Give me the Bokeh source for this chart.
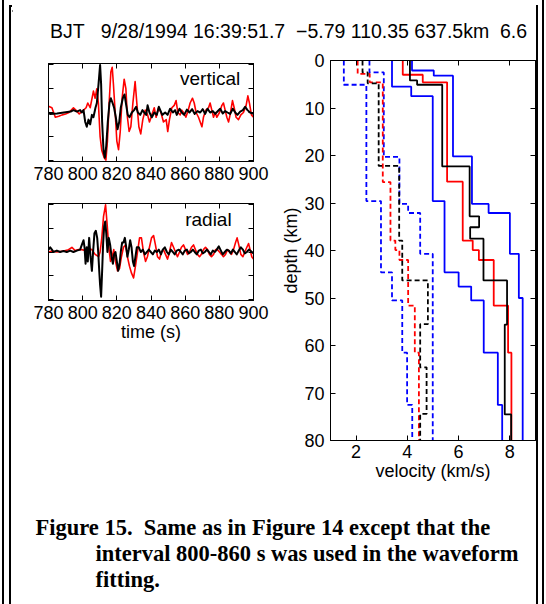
from bokeh.plotting import figure
from bokeh.models import Range1d, LinearAxis, Label, Div, FixedTicker
from bokeh.layouts import row, column
from bokeh.embed import file_html
from bokeh.resources import INLINE

FONT = "Liberation Sans"
SERIF = "Liberation Serif"
NB = "\u00a0"

TITLE = "BJT" + NB * 3 + "9/28/1994 16:39:51.7" + NB * 2 + "\u22125.79 110.35 637.5km" + NB * 2 + "6.6"
CAPTION = ["Figure 15." + NB * 2 + "Same as in Figure 14 except that the",
           "interval 800-860 s was used in the waveform",
           "fitting."]

time_ticks = [780, 800, 820, 840, 860, 880, 900]
amp_ticks = [-1, -0.5, 0, 0.5, 1]
vel_ticks = [2, 4, 6, 8]
depth_ticks = [0, 10, 20, 30, 40, 50, 60, 70, 80]

# ---- vertical component: synthetic (red) and observed (black)
vert_red_t = [780, 782, 784, 786, 788, 790, 792, 794.6, 796, 798,
              800.5, 802, 803, 804.4, 806.3, 807.3, 808.3, 809.2, 810.2, 811.2,
              812.6, 813.6, 814.5, 815.5, 816.5, 817.3, 818, 819.2, 820, 821,
              822, 823.1, 824.3, 825.3, 826.2, 827.2, 828.2, 829.4, 830.7, 831.7,
              832.9, 834, 835.2, 836.6, 838, 839.1, 840.5, 841.9, 843, 844.4,
              845.8, 847.3, 848.9, 849.8, 850.8, 852.2, 853.6, 854.7, 855.7, 857.1,
              858, 859, 860.4, 861.8, 862.9, 864.3, 865.3, 866.4, 867.8, 868.8,
              869.8, 870.7, 872.1, 873.7, 874.6, 875.6, 876.6, 877.6, 878.5, 880.1,
              881.5, 882.4, 883.4, 884.4, 885.4, 886.3, 887.7, 888.7, 889.8, 891.2,
              892.6, 894.1, 895.7, 896.7, 897.6, 898.8, 900]
vert_red = [0.13, 0.1, -0.1, -0.08, -0.05, -0.03, 0.0, 0.1, 0.05, -0.03,
            0.05, 0.1, 0.2, 0.1, 0.45, 0.3, 0.5, 0.2, -0.5, -0.8,
            -0.95, -1.0, -0.6, 0.2, 0.85, 0.95, 0.6, -0.1, -0.6, -0.78,
            -0.4, 0.3, 0.7, 0.5, -0.1, -0.4, -0.3, 0.2, 0.65, 0.2,
            -0.3, -0.45, -0.15, 0.05, -0.05, -0.2, -0.05, 0.1, -0.1, 0.1,
            0.0, -0.2, -0.15, -0.4, -0.15, 0.1, 0.15, 0.25, 0.0, -0.05,
            0.05, 0.0, -0.1, 0.05, 0.2, 0.3, 0.2, 0.0, -0.1, -0.2,
            -0.3, -0.1, 0.05, 0.1, 0.2, 0.05, -0.1, 0.0, -0.1, 0.0,
            0.15, 0.2, 0.05, -0.1, -0.2, -0.05, 0.25, 0.1, -0.1, -0.15,
            -0.05, 0.0, 0.15, 0.35, 0.2, -0.05, -0.1]
vert_blk_t = [780, 781, 785, 789, 793, 794.6, 796.6, 798.5, 799.5, 800.5,
              801.5, 802.4, 803.4, 804.4, 805.4, 806.3, 807.5, 808.3, 809.3, 810.2,
              810.8, 811.4, 812.2, 813, 813.8, 814.7, 815.7, 816.5, 817.5, 818.4,
              819.4, 820.4, 821.4, 822.3, 823.5, 824.5, 825.5, 826.4, 827.4, 828.8,
              830.1, 831.3, 832.3, 833.7, 835, 836, 837.2, 838, 839.1, 840.5,
              841.9, 843.4, 844.6, 845.4, 846.6, 848.3, 849.7, 851.2, 852.8, 854.1,
              855.1, 856.7, 858, 859.4, 861, 862.5, 864.1, 865.6, 867.2, 868.8,
              870.3, 871.7, 873.1, 874.6, 876.2, 877.6, 878.9, 880.5, 882, 883.4,
              884.8, 886.3, 887.9, 889.3, 890.6, 892.2, 893.8, 895.1, 896.5,
              898, 900]
vert_blk = [0.0, -0.03, -0.02, 0.0, 0.02, 0.05, 0.02, 0.05, 0.0, 0.05,
            -0.2, -0.3, -0.15, -0.25, -0.05, -0.1, 0.1, 0.2, 0.6, 1.0,
            0.6, -0.2, -0.8, -0.95, -0.7, -0.2, 0.2, 0.3, 0.2, 0.1,
            -0.1, -0.35, -0.2, 0.1, 0.3, 0.38, 0.15, -0.05, -0.1, 0.0,
            0.05, 0.12, 0.0, -0.05, 0.05, 0.0, -0.05, 0.15, 0.0, -0.1,
            0.0, -0.05, 0.12, 0.05, -0.05, 0.0, -0.05, 0.08, 0.0, 0.05,
            -0.05, 0.08, 0.0, -0.05, 0.06, 0.0, 0.07, -0.03, 0.03, 0.0,
            0.07, -0.03, 0.08, 0.0, 0.03, -0.03, 0.02, 0.08, -0.02, 0.03,
            0.0, -0.03, 0.08, 0.0, -0.05, 0.02, 0.05, 0.12, 0.05,
            0.0, -0.03]

# ---- radial component
rad_red_t = [780, 782, 784.9, 788.8, 791.7, 793.7, 795.6, 797.6, 799.5, 801.5,
             803.4, 805.4, 807.3, 809.3, 810.2, 811.2, 812.2, 813.4, 814.3, 815.3,
             816.3, 817.3, 818.2, 819.2, 820.4, 821.6, 822.7, 823.9, 825.1, 826.2,
             827.4, 828.6, 829.8, 830.9, 832.1, 833.3, 834.4, 835.6, 836.8, 837.9,
             839.1, 840.3, 841.5, 842.6, 843.8, 845, 846.1, 847.3, 848.5, 849.7,
             850.8, 852, 853.2, 854.3, 855.5, 856.7, 857.8, 859, 860.2, 861.4,
             862.5, 863.7, 864.9, 866, 867.2, 868.4, 869.5, 870.7, 871.9, 873.1,
             874.2, 875.4, 876.6, 877.8, 878.9, 880.1, 881.3, 882.4, 883.6, 884.8,
             886, 887.1, 888.3, 889.5, 890.4, 891.4, 892.6, 893.8, 894.9, 896.1,
             897.1, 898, 899, 900]
rad_red = [0.0, 0.02, 0.0, 0.02, 0.05, 0.1, 0.03, 0.05, 0.05, 0.03,
           0.07, 0.05, -0.05, -0.1, 0.0, 0.3, 0.75, 1.0, 0.6, 0.1,
           -0.2, -0.1, 0.05, -0.2, -0.4, -0.35, -0.1, 0.1, 0.15, -0.1,
           -0.3, -0.45, -0.55, -0.3, 0.0, 0.3, 0.3, 0.0, -0.2, -0.1,
           0.1, 0.3, 0.35, 0.15, -0.1, -0.15, 0.0, 0.05, -0.05, -0.15,
           0.0, 0.2, 0.1, 0.0, -0.1, 0.0, 0.1, 0.15, 0.05, -0.05,
           0.0, 0.1, 0.15, 0.05, -0.05, -0.1, -0.05, 0.05, 0.1, 0.05,
           -0.05, -0.1, -0.05, 0.05, 0.05, 0.0, -0.05, -0.1, -0.05, 0.05,
           0.0, -0.05, 0.05, 0.2, 0.3, 0.15, -0.05, -0.1, 0.0, 0.1,
           0.18, 0.05, -0.1, -0.15]
rad_blk_t = [780, 781, 782, 782.9, 784.9, 786.8, 788.8, 790.7, 792.7, 794.6,
             796.6, 798.5, 799.5, 800.5, 801.1, 801.7, 802.4, 803, 803.8, 804.6,
             805.4, 806.1, 806.9, 807.7, 808.5, 809.1, 809.7, 810.2, 810.8, 811.4,
             812, 812.6, 813.2, 813.8, 814.5, 815.3, 816.1, 816.9, 817.7, 818.4,
             819.2, 820, 820.8, 821.6, 822.3, 823.1, 823.9, 824.7, 825.5, 826.2,
             827, 827.8, 828.6, 829.4, 830.1, 830.9, 831.7, 832.9, 834, 835.2,
             836.4, 837.6, 838.7, 839.9, 841.1, 842.2, 843.4, 844.6, 845.8, 846.9,
             848.1, 849.3, 850.4, 851.6, 852.8, 853.9, 855.1, 856.3, 857.5, 858.6,
             859.8, 861, 862.1, 863.3, 864.5, 865.6, 866.8, 868, 869.2, 870.3,
             871.5, 872.7, 873.9, 875, 876.2, 877.4, 878.5, 879.7, 880.9, 882,
             883.2, 884.4, 885.6, 886.7, 887.9, 889.1, 890.2, 891.4, 892.6, 893.8,
             894.9, 896.1, 897.3, 898.4, 900]
rad_blk = [0.05, 0.1, 0.05, 0.0, 0.03, 0.0, 0.02, 0.0, 0.03, 0.0,
           0.03, 0.05, 0.15, 0.25, 0.1, -0.25, 0.1, -0.2, 0.3, -0.1,
           -0.4, 0.0, 0.4, 0.45, 0.3, 0.0, -0.4, -0.7, -0.95, -0.4,
           0.2, 0.55, 0.65, 0.4, 0.0, 0.3, 0.15, -0.1, -0.25, -0.05,
           0.0, -0.2, -0.4, -0.25, 0.0, 0.2, 0.2, 0.3, 0.1, -0.1,
           0.05, 0.25, 0.1, -0.2, -0.3, -0.1, 0.1, 0.1, 0.0, 0.05,
           -0.05, 0.0, 0.05, 0.0, -0.05, 0.03, 0.0, 0.05, -0.05, 0.05,
           0.1, 0.0, -0.05, 0.05, 0.0, -0.05, 0.03, 0.05, 0.0, -0.05,
           0.03, 0.05, -0.03, 0.0, 0.05, 0.0, -0.05, 0.03, 0.05, -0.03,
           0.0, 0.05, 0.0, -0.05, 0.03, 0.0, 0.05, 0.12, 0.03, -0.05,
           0.0, 0.05, 0.03, -0.03, 0.05, 0.0, -0.05, 0.03, 0.1, 0.05,
           -0.03, 0.0, 0.05, 0.02, -0.03]

# ---- velocity models: layer boundaries (km) and layer velocities (km/s)
vp_best_z = [0, 4.2, 5.1, 22.3, 32.8, 35.1, 37.5, 46.3, 55.6, 74.5, 80]
vp_best_v = [4.1, 4.38, 5.36, 6.43, 6.8, 6.45, 6.97, 7.89, 7.8, 8.05]
vp_ref_z = [0, 3.0, 4.6, 25.5, 37.9, 39.9, 42.0, 51.6, 61.5, 80]
vp_ref_v = [3.82, 4.6, 5.55, 6.16, 6.55, 6.79, 7.37, 7.93, 8.06]
vp_lo_z = [0, 5.5, 7.5, 29.6, 44.6, 47.6, 50.5, 61.5, 72.5, 80]
vp_lo_v = [3.4, 4.15, 4.99, 5.45, 6.0, 6.49, 6.98, 7.53, 7.7]
vp_hi_z = [0, 2.1, 3.2, 20.2, 30.2, 32.1, 40.7, 50.0, 80]
vp_hi_v = [4.18, 5.03, 5.78, 6.52, 7.17, 8.0, 8.35, 8.5]

vs_best_z = [0, 2.5, 4.8, 22.2, 37.9, 46.3, 55.5, 64.6, 74.4, 80]
vs_best_v = [2.25, 2.45, 2.88, 3.68, 3.8, 4.8, 4.5, 4.75, 4.5]
vs_ref_z = [0, 2.8, 4.6, 25.6, 37.9, 39.9, 42.0, 51.6, 61.5, 80]
vs_ref_v = [2.06, 2.53, 3.04, 3.34, 3.53, 3.69, 4.03, 4.29, 4.45]
vs_lo_z = [0, 5.1, 29.6, 44.6, 50.5, 61.5, 72.5, 80]
vs_lo_v = [1.52, 2.4, 2.97, 3.4, 3.8, 3.99, 4.19]
vs_hi_z = [0, 2.5, 20.3, 30.2, 32.1, 40.7, 80]
vs_hi_v = [2.52, 3.08, 3.69, 4.03, 4.5, 4.99]

RED = "#ff0000"
BLUE = "#0000ff"


def steps(z, v):
    xs, ys = [], []
    for i, vel in enumerate(v):
        xs += [vel, vel]
        ys += [z[i], z[i + 1]]
    return xs, ys


def style_axis(ax, ticks, show_labels, fs="18px", standoff=5):
    ax.ticker = FixedTicker(ticks=ticks)
    ax.major_tick_in = 5
    ax.major_tick_out = 0
    ax.minor_tick_line_color = None
    ax.axis_line_color = "black"
    ax.axis_line_width = 1
    ax.major_tick_line_color = "black"
    ax.major_tick_line_width = 1
    ax.major_label_text_font = FONT
    if show_labels:
        ax.major_label_text_color = "black"
        ax.major_label_text_font_size = fs
        ax.major_label_standoff = standoff
    else:
        ax.major_label_text_color = None
        ax.major_label_text_font_size = "1px"
        ax.major_label_standoff = 0
    ax.axis_label_text_font = FONT
    ax.axis_label_text_font_size = fs
    ax.axis_label_text_font_style = "normal"
    ax.axis_label_text_color = "black"
    ax.axis_label_standoff = 0


def make_fig(w, h, xr, yr, left, right, top, bottom):
    p = figure(width=w, height=h, x_range=xr, y_range=yr,
               output_backend="svg", toolbar_location=None,
               min_border_left=left, min_border_right=right,
               min_border_top=top, min_border_bottom=bottom)
    p.grid.visible = False
    p.outline_line_color = "black"
    p.outline_line_width = 1
    p.background_fill_color = "white"
    p.border_fill_color = "white"
    return p


def add_mirrors(p, xt, yt):
    top = LinearAxis()
    style_axis(top, xt, False)
    p.add_layout(top, "above")
    rt = LinearAxis()
    style_axis(rt, yt, False)
    p.add_layout(rt, "right")


# ---- vertical panel
figV = make_fig(258, 135, Range1d(780, 900), Range1d(-1.03, 1.03), 36, 17, 13, 24)
style_axis(figV.xaxis[0], time_ticks, True)
style_axis(figV.yaxis[0], amp_ticks, False)
add_mirrors(figV, time_ticks, amp_ticks)
figV.line(vert_red_t, vert_red, line_color=RED, line_width=1.6, line_join="round")
figV.line(vert_blk_t, vert_blk, line_color="black", line_width=2, line_join="round")
figV.add_layout(Label(x=857, y=0.72, text="vertical", text_font=FONT, text_color="black",
                      text_font_size="19px", text_baseline="alphabetic"))

# ---- radial panel
figR = make_fig(258, 170, Range1d(780, 900), Range1d(-1.03, 1.03), 36, 17, 18, 55)
style_axis(figR.xaxis[0], time_ticks, True)
style_axis(figR.yaxis[0], amp_ticks, False)
figR.xaxis[0].axis_label = "time (s)"
add_mirrors(figR, time_ticks, amp_ticks)
figR.line(rad_red_t, rad_red, line_color=RED, line_width=1.6, line_join="round")
figR.line(rad_blk_t, rad_blk, line_color="black", line_width=2, line_join="round")
figR.add_layout(Label(x=860, y=0.68, text="radial", text_font=FONT, text_color="black",
                      text_font_size="19px", text_baseline="alphabetic"))

# ---- velocity panel
figVel = make_fig(266, 440, Range1d(1, 9), Range1d(80, 0), 60, 1, 10, 50)
style_axis(figVel.xaxis[0], vel_ticks, True, standoff=4)
style_axis(figVel.yaxis[0], depth_ticks, True, standoff=6)
figVel.xaxis[0].axis_label = "velocity (km/s)"
figVel.yaxis[0].axis_label = "depth (km)"
add_mirrors(figVel, vel_ticks, depth_ticks)

models = [
    (vs_lo_z, vs_lo_v, BLUE, "5 3"),
    (vs_hi_z, vs_hi_v, BLUE, "5 3"),
    (vs_ref_z, vs_ref_v, RED, "5 3"),
    (vs_best_z, vs_best_v, "black", "5 3"),
    (vp_lo_z, vp_lo_v, BLUE, "solid"),
    (vp_hi_z, vp_hi_v, BLUE, "solid"),
    (vp_ref_z, vp_ref_v, RED, "solid"),
    (vp_best_z, vp_best_v, "black", "solid"),
]
for z, v, c, d in models:
    xs, ys = steps(z, v)
    figVel.line(xs, ys, line_color=c, line_width=1.8, line_dash=d)

# ---- title and caption
figT = figure(width=524, height=43, x_range=Range1d(0, 1), y_range=Range1d(0, 1),
              output_backend="svg", toolbar_location=None, min_border=0,
              x_axis_location=None, y_axis_location=None)
figT.grid.visible = False
figT.outline_line_color = None
figT.add_layout(Label(x=276, y=20, x_units="screen", y_units="screen", text=TITLE,
                      text_align="center", text_baseline="alphabetic", text_color="black",
                      text_font=FONT, text_font_size="19.5px"))

figC = figure(width=524, height=114, x_range=Range1d(0, 1), y_range=Range1d(0, 1),
              output_backend="svg", toolbar_location=None, min_border=0,
              x_axis_location=None, y_axis_location=None)
figC.grid.visible = False
figC.outline_line_color = None
cap_pos = [(23, 77), (83, 51), (83, 25)]
for txt, (cx, cy) in zip(CAPTION, cap_pos):
    figC.add_layout(Label(x=cx, y=cy, x_units="screen", y_units="screen", text=txt,
                          text_baseline="alphabetic", text_font=SERIF, text_color="black",
                          text_font_style="bold", text_font_size="22.5px"))

# ---- frame lines (decoration)
left_html = ('<div style="position:relative;width:12px;height:604px;">'
             '<div style="position:absolute;left:2px;top:0px;width:2px;height:604px;background:#000"></div>'
             '<div style="position:absolute;left:9px;top:5px;width:2px;height:599px;background:#000"></div>'
             '<div style="position:absolute;left:9px;top:5px;width:3px;height:2px;background:#000"></div>'
             '</div>')
top_html = ('<div style="position:relative;width:524px;height:7px;">'
            '<div style="position:absolute;left:0px;top:5px;width:524px;height:2px;background:#000"></div>'
            '</div>')
right_html = ('<div style="position:relative;width:10px;height:604px;">'
              '<div style="position:absolute;left:0px;top:5px;width:2px;height:599px;background:#000"></div>'
              '<div style="position:absolute;left:6px;top:0px;width:2px;height:604px;background:#000"></div>'
              '</div>')
divL = Div(text=left_html, width=12, height=604, margin=0)
divTop = Div(text=top_html, width=524, height=7, margin=0)
divR = Div(text=right_html, width=10, height=604, margin=0)

left_col = column(figV, figR, spacing=0)
panels = row(left_col, figVel, spacing=0)
mid = column(divTop, figT, panels, figC, spacing=0)
page = row(divL, mid, divR, spacing=0)

open("out.html", "w").write(file_html(page, INLINE))
